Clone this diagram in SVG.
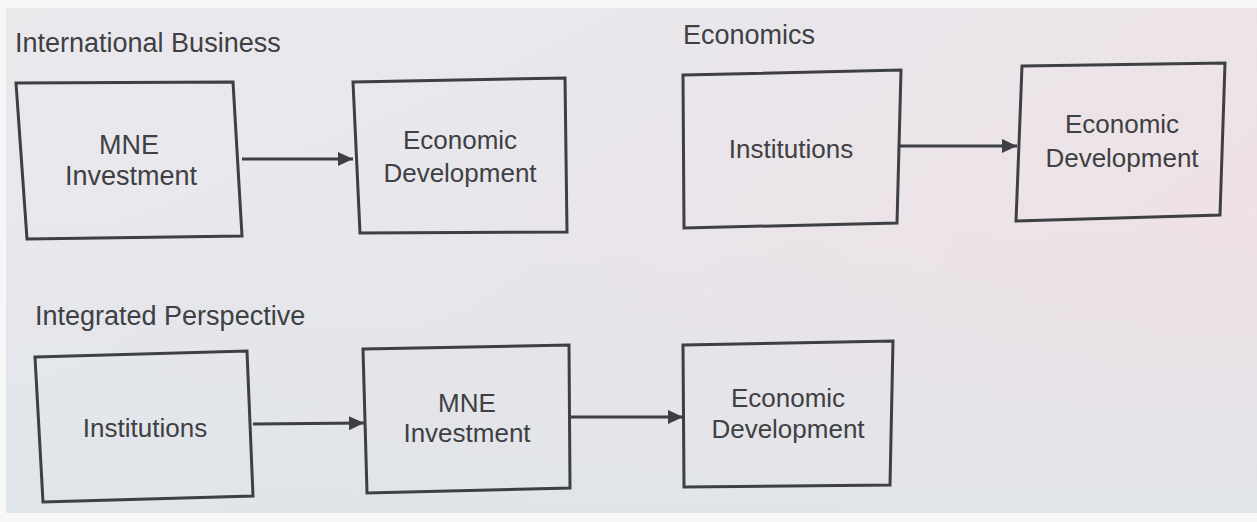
<svg xmlns="http://www.w3.org/2000/svg" width="1257" height="522" viewBox="0 0 1257 522">
  <defs>
    <linearGradient id="bg" x1="0" y1="0" x2="1" y2="1">
      <stop offset="0" stop-color="#ebe8ec"/>
      <stop offset="0.5" stop-color="#e6e7ec"/>
      <stop offset="1" stop-color="#e9e7ee"/>
    </linearGradient>
    <linearGradient id="pink" x1="0" y1="0" x2="1" y2="0.6">
      <stop offset="0.35" stop-color="#f3dfe3" stop-opacity="0"/>
      <stop offset="1" stop-color="#f3dfe3" stop-opacity="0.8"/>
    </linearGradient>
    <linearGradient id="blue" x1="0" y1="0" x2="0" y2="1">
      <stop offset="0.4" stop-color="#dfe5ea" stop-opacity="0"/>
      <stop offset="1" stop-color="#dfe5ea" stop-opacity="0.9"/>
    </linearGradient>
    <marker id="arrow" markerUnits="userSpaceOnUse" markerWidth="16" markerHeight="15" refX="15" refY="7" orient="auto">
      <path d="M0,0 L15,7 L0,14 z" fill="#3d3f42"/>
    </marker>
  </defs>
  <style>
    .box { fill: none; stroke: #3d3f42; stroke-width: 3; stroke-linejoin: miter; }
    .conn { stroke: #3d3f42; stroke-width: 3; fill: none; }
    text { font-family: "Liberation Sans", Arial, Helvetica, sans-serif; fill: #3e4043; }
    .title { font-size: 27px; }
    .lbl { font-size: 26px; text-anchor: middle; }
  </style>

  <rect width="1257" height="522" fill="#f7f7f8"/>
  <rect x="6" y="8" width="1251" height="505" fill="url(#bg)"/>
  <rect x="6" y="8" width="1251" height="505" fill="url(#pink)"/>
  <rect x="6" y="8" width="1251" height="505" fill="url(#blue)"/>

  <text class="title" x="15" y="52">International Business</text>
  <text class="title" x="683" y="44">Economics</text>
  <text class="title" x="35" y="325">Integrated Perspective</text>

  <g id="ib-mne">
    <polygon class="box" points="16,83 233,82 242,236 27,239"/>
    <text class="lbl" x="129" y="154" style="font-size:27px">MNE</text>
    <text class="lbl" x="131" y="185" style="font-size:27px">Investment</text>
  </g>
  <g id="ib-econ">
    <polygon class="box" points="353,82 565,78 567,232 360,233"/>
    <text class="lbl" x="460" y="149">Economic</text>
    <text class="lbl" x="460" y="182">Development</text>
  </g>
  <g id="ec-inst">
    <polygon class="box" points="683,75 901,70 897,223 684,228"/>
    <text class="lbl" x="791" y="158">Institutions</text>
  </g>
  <g id="ec-econ">
    <polygon class="box" points="1022,66 1225,63 1220,215 1016,221"/>
    <text class="lbl" x="1122" y="133">Economic</text>
    <text class="lbl" x="1122" y="167">Development</text>
  </g>
  <g id="ip-inst">
    <polygon class="box" points="35,357 247,351 253,496 43,502"/>
    <text class="lbl" x="145" y="437">Institutions</text>
  </g>
  <g id="ip-mne">
    <polygon class="box" points="363,349 569,345 570,488 367,493"/>
    <text class="lbl" x="467" y="412">MNE</text>
    <text class="lbl" x="467" y="442">Investment</text>
  </g>
  <g id="ip-econ">
    <polygon class="box" points="683,345 893,341 890,485 684,487"/>
    <text class="lbl" x="788" y="407">Economic</text>
    <text class="lbl" x="788" y="438">Development</text>
  </g>

  <g id="connectors">
    <line class="conn" x1="242" y1="159" x2="353" y2="159" marker-end="url(#arrow)"/>
    <line class="conn" x1="898" y1="146" x2="1017" y2="146" marker-end="url(#arrow)"/>
    <line class="conn" x1="253" y1="424" x2="364" y2="423" marker-end="url(#arrow)"/>
    <line class="conn" x1="570" y1="417" x2="683" y2="417" marker-end="url(#arrow)"/>
  </g>
</svg>
